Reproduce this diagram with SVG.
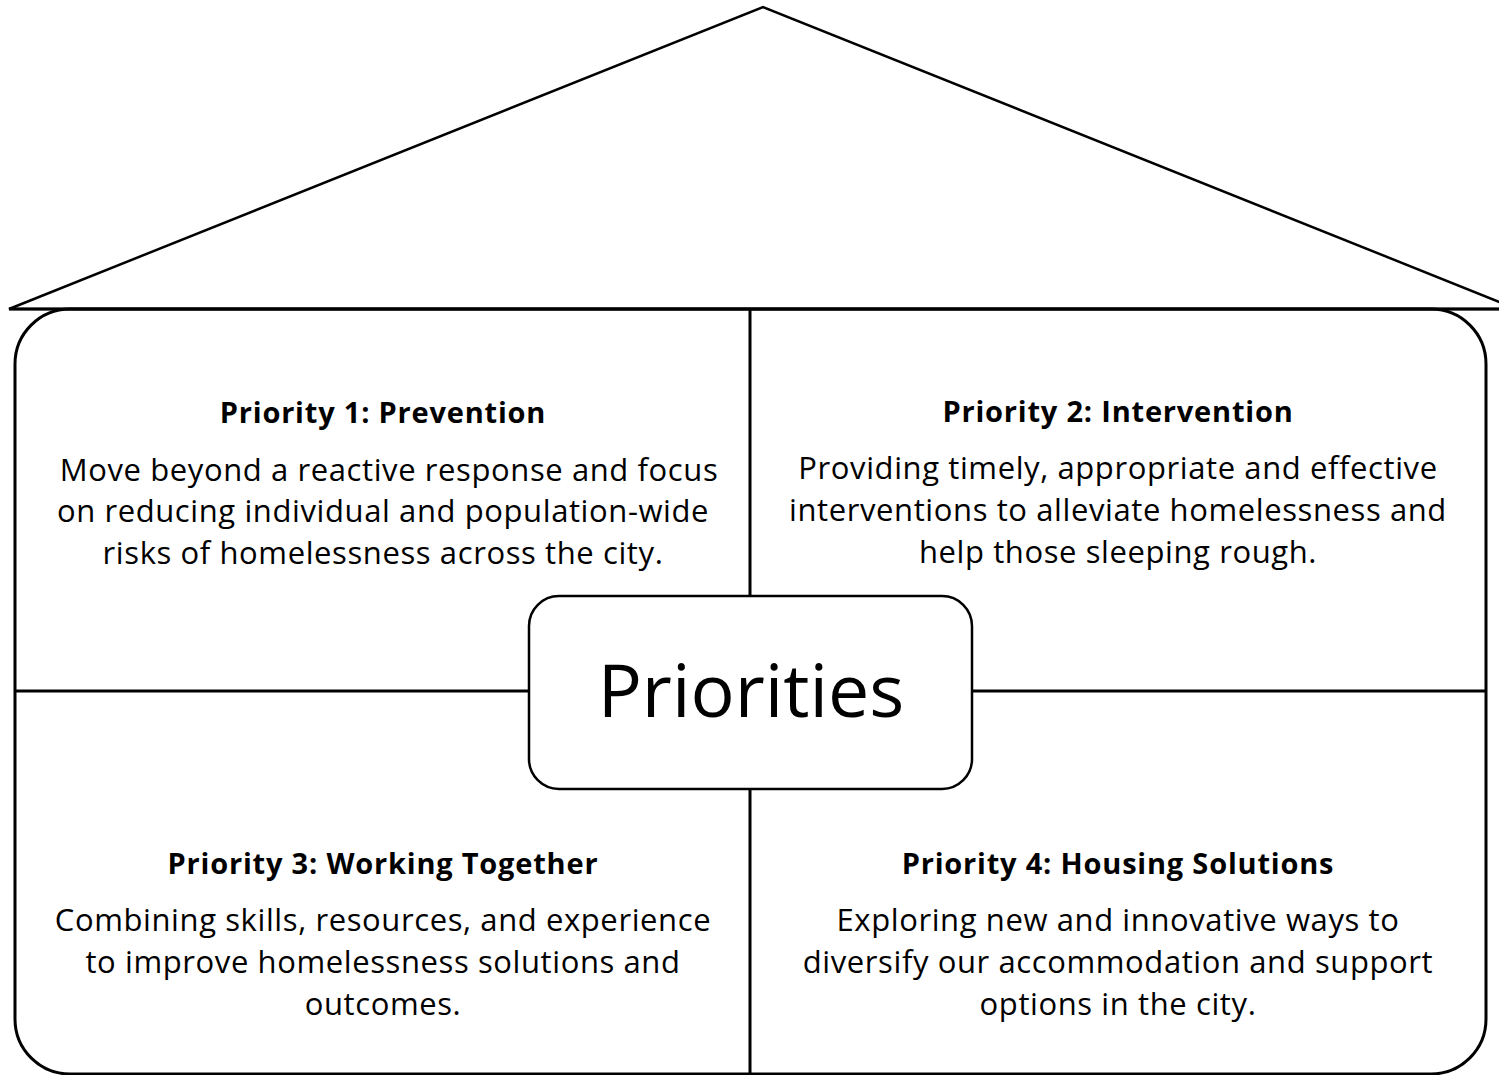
<svg xmlns="http://www.w3.org/2000/svg" width="1499" height="1075" viewBox="0 0 1499 1075">
<style>
.ln{fill:none;stroke:#000;stroke-width:3}
.roof{fill:none;stroke:#000;stroke-width:2.5;stroke-linejoin:miter}
.box{fill:#fff;stroke:#000;stroke-width:2.5}
.t{font-family:"Open Sans","Noto Sans",sans-serif;font-size:29px;letter-spacing:0.8px;font-weight:bold;text-anchor:middle;fill:#000}
.b{font-family:"Open Sans","Noto Sans",sans-serif;font-size:31px;letter-spacing:0.6px;text-anchor:middle;fill:#000}
.c{font-family:"Open Sans","Noto Sans",sans-serif;font-size:73.5px;text-anchor:middle;fill:#000}
</style>
<rect width="1499" height="1075" fill="#fff"/>
<g id="roof">
<path class="roof" d="M 1517 309 L 763 7 L 9 309 Z"/>
</g>
<g id="house-body">
<rect class="ln" x="15" y="309" width="1471" height="765" rx="55" ry="55"/>
</g>
<g id="connectors">
<line class="ln" x1="9" y1="309" x2="1499" y2="309"/>
<line class="ln" x1="750" y1="309" x2="750" y2="597"/>
<line class="ln" x1="750" y1="789" x2="750" y2="1075"/>
<line class="ln" x1="15" y1="691" x2="529" y2="691"/>
<line class="ln" x1="972" y1="691" x2="1486" y2="691"/>
</g>
<g id="priority-1">
<text class="t" x="383" y="423">Priority 1: Prevention</text>
<text class="b" x="389" y="481">Move beyond a reactive response and focus</text>
<text class="b" x="383" y="522">on reducing individual and population-wide</text>
<text class="b" x="383" y="564">risks of homelessness across the city.</text>
</g>
<g id="priority-2">
<text class="t" x="1118" y="422">Priority 2: Intervention</text>
<text class="b" x="1118" y="479">Providing timely, appropriate and effective</text>
<text class="b" x="1118" y="521">interventions to alleviate homelessness and</text>
<text class="b" x="1118" y="563">help those sleeping rough.</text>
</g>
<g id="priority-3">
<text class="t" x="383" y="874">Priority 3: Working Together</text>
<text class="b" x="383" y="931">Combining skills, resources, and experience</text>
<text class="b" x="383" y="973">to improve homelessness solutions and</text>
<text class="b" x="383" y="1015">outcomes.</text>
</g>
<g id="priority-4">
<text class="t" x="1118" y="874">Priority 4: Housing Solutions</text>
<text class="b" x="1118" y="931">Exploring new and innovative ways to</text>
<text class="b" x="1118" y="973">diversify our accommodation and support</text>
<text class="b" x="1118" y="1015">options in the city.</text>
</g>
<g id="priorities">
<rect class="box" x="529" y="596" width="443" height="193" rx="30" ry="30"/>
<text class="c" x="751" y="717">Priorities</text>
</g>
</svg>
